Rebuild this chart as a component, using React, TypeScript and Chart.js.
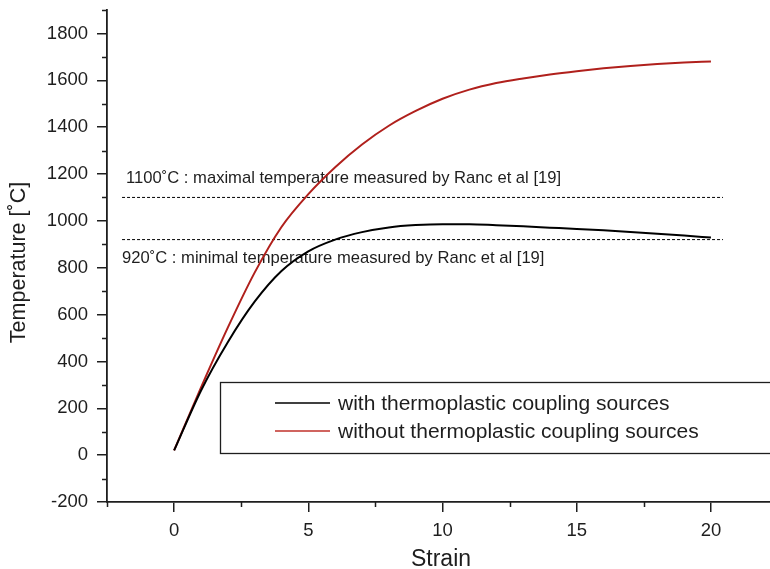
import React, { useEffect, useRef } from "react";
import { Chart, registerables } from "chart.js";

Chart.register(...registerables);

// ---- data ----
const strain = [0, 1, 2, 3, 4, 5, 6, 7, 8, 9, 10, 11, 12, 13, 14, 15, 16, 17, 18, 19, 20];
const withCoupling = [20, 275, 482, 655, 786, 870, 920, 952, 972, 982, 986, 986, 981.5, 976.5, 971, 965.5, 959.5, 952.5, 945, 937, 928.5];
const withoutCoupling = [20, 288, 544, 779, 974, 1114, 1229, 1326, 1406, 1469, 1521, 1560, 1588, 1608, 1625, 1639, 1651, 1661, 1669, 1675.5, 1680.5];
const refTemps = [1100, 920];
const refStrainRange = [-1.94, 20.45];
const refLabels = [
  "1100˚C : maximal temperature measured by Ranc et al [19]",
  "920˚C : minimal temperature measured by Ranc et al [19]",
];
const seriesLabels = ["with thermoplastic coupling sources", "without thermoplastic coupling sources"];
const xTitle = "Strain";
const yTitle = "Temperature [˚C]";
const xTicks = [0, 5, 10, 15, 20];
const yTicks = [-200, 0, 200, 400, 600, 800, 1000, 1200, 1400, 1600, 1800];
const xMinor = [-2.5, 2.5, 7.5, 12.5, 17.5];
const yMinor = [-100, 100, 300, 500, 700, 900, 1100, 1300, 1500, 1700, 1900];

const FONT = "'Liberation Sans', Arial, sans-serif";
const AX = "#1e1e1e";
const RED = "#b0201c";
const BLACK = "#000000";

const decorPlugin = {
  id: "decor",
  beforeDatasetsDraw(chart: any) {
    const ctx = chart.ctx;
    const x = chart.scales.x;
    const y = chart.scales.y;
    ctx.save();
    ctx.fillStyle = AX;
    ctx.font = `16.6px ${FONT}`;
    ctx.textBaseline = "alphabetic";
    ctx.textAlign = "left";
    const y1 = y.getPixelForValue(refTemps[0]);
    const y2 = y.getPixelForValue(refTemps[1]);
    ctx.fillText(refLabels[0], x.getPixelForValue(-1.79), y1 - 14);
    ctx.fillText(refLabels[1], x.getPixelForValue(refStrainRange[0]), y2 + 23);
    ctx.restore();
  },
  afterDraw(chart: any) {
    const ctx = chart.ctx;
    const x = chart.scales.x;
    const y = chart.scales.y;
    const area = chart.chartArea;
    ctx.save();
    // minor ticks
    ctx.strokeStyle = AX;
    ctx.lineWidth = 1.5;
    ctx.beginPath();
    yMinor.forEach((v) => {
      const py = Math.round(y.getPixelForValue(v)) + 0.5;
      ctx.moveTo(area.left, py);
      ctx.lineTo(area.left - 5, py);
    });
    xMinor.forEach((v) => {
      const px = Math.round(x.getPixelForValue(v)) + 0.5;
      ctx.moveTo(px, area.bottom);
      ctx.lineTo(px, area.bottom + 5);
    });
    ctx.stroke();

    // axis titles
    ctx.fillStyle = AX;
    ctx.font = `23px ${FONT}`;
    ctx.textAlign = "center";
    ctx.textBaseline = "alphabetic";
    ctx.fillText(xTitle, 441, 566);
    ctx.save();
    ctx.translate(25, 262.5);
    ctx.rotate(-Math.PI / 2);
    ctx.font = `21.5px ${FONT}`;
    ctx.fillText(yTitle, 0, 0);
    ctx.restore();

    // legend box
    const bx = 220, by = 382, bw = 600, bh = 71;
    ctx.fillStyle = "#ffffff";
    ctx.fillRect(bx, by, bw, bh);
    ctx.strokeStyle = AX;
    ctx.lineWidth = 1.3;
    ctx.strokeRect(bx + 0.5, by + 0.5, bw, bh);
    const rows = [403, 431];
    const cols = [BLACK, "#c0302a"];
    rows.forEach((ry, i) => {
      ctx.strokeStyle = cols[i];
      ctx.lineWidth = 1.4;
      ctx.beginPath();
      ctx.moveTo(275, ry);
      ctx.lineTo(330, ry);
      ctx.stroke();
      ctx.fillStyle = AX;
      ctx.font = `21px ${FONT}`;
      ctx.textBaseline = "middle";
      ctx.textAlign = "left";
      ctx.fillText(seriesLabels[i], 338, ry + 1);
    });
    ctx.restore();
  },
};

const zeroPad = (s: any) => {
  s.paddingTop = 0;
  s.paddingBottom = 0;
  s.paddingLeft = 0;
  s.paddingRight = 0;
};

export default function App() {
  const ref = useRef<HTMLCanvasElement | null>(null);
  useEffect(() => {
    if (!ref.current) return;
    const refSets = refTemps.map((t) => ({
      label: "ref" + t,
      data: refStrainRange.map((s) => ({ x: s, y: t })),
      borderColor: BLACK,
      borderWidth: 1,
      borderDash: [3, 2],
      pointRadius: 0,
      tension: 0,
    }));
    const chart = new Chart(ref.current, {
      type: "line",
      data: {
        datasets: [
          {
            label: seriesLabels[0],
            data: strain.map((s, i) => ({ x: s, y: withCoupling[i] })),
            borderColor: BLACK,
            borderWidth: 2,
            pointRadius: 0,
            cubicInterpolationMode: "monotone",
          },
          {
            label: seriesLabels[1],
            data: strain.map((s, i) => ({ x: s, y: withoutCoupling[i] })),
            borderColor: RED,
            borderWidth: 2,
            pointRadius: 0,
            cubicInterpolationMode: "monotone",
          },
          ...refSets,
        ] as any,
      },
      options: {
        responsive: false,
        animation: false,
        layout: { padding: { top: 10, left: 0, right: 0, bottom: 0 } },
        plugins: { legend: { display: false }, tooltip: { enabled: false } },
        scales: {
          x: {
            type: "linear",
            min: -2.5,
            max: 22.2,
            afterBuildTicks: (s: any) => {
              s.ticks = xTicks.map((v) => ({ value: v }));
            },
            afterFit: (s: any) => {
              s.height = 67;
              zeroPad(s);
            },
            grid: { display: true, drawOnChartArea: false, drawTicks: true, tickLength: 10, color: AX, lineWidth: 1.5 },
            border: { display: true, color: AX, width: 1.8 },
            ticks: {
              font: { family: FONT, size: 18.5 },
              color: AX,
              padding: 8,
              maxRotation: 0,
              autoSkip: false,
              callback: (v: any) => String(v),
            },
            title: { display: false },
          },
          y: {
            type: "linear",
            min: -200,
            max: 1900,
            afterBuildTicks: (s: any) => {
              s.ticks = yTicks.map((v) => ({ value: v }));
            },
            afterFit: (s: any) => {
              s.width = 107;
              zeroPad(s);
            },
            grid: { display: true, drawOnChartArea: false, drawTicks: true, tickLength: 10, color: AX, lineWidth: 1.5 },
            border: { display: true, color: AX, width: 1.8 },
            ticks: {
              font: { family: FONT, size: 18.5 },
              color: AX,
              padding: 9,
              autoSkip: false,
              callback: (v: any) => String(v),
            },
            title: { display: false },
          },
        },
      } as any,
      plugins: [decorPlugin],
    });
    return () => chart.destroy();
  }, []);
  return (
    <div style={{ position: "absolute", left: 0, top: 0, width: 770, height: 569, background: "#fff" }}>
      <canvas ref={ref} width={770} height={569} style={{ display: "block" }} />
    </div>
  );
}
